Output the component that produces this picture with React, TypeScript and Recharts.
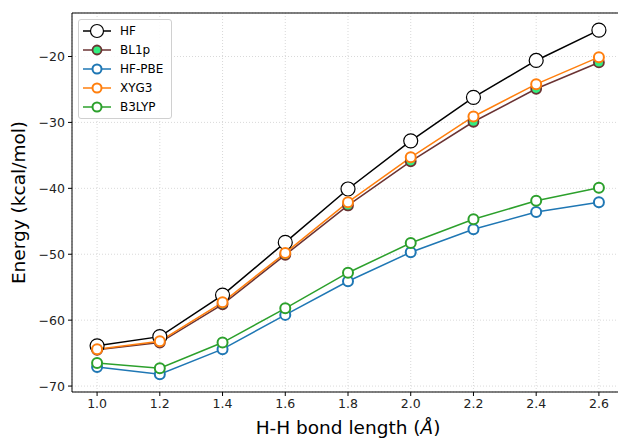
import { LineChart, Line, XAxis, YAxis, CartesianGrid, ReferenceLine } from "recharts";

const bondLength = [1.0, 1.2, 1.4, 1.6, 1.8, 2.0, 2.2, 2.4, 2.6];
const hf = [-63.9, -62.5, -56.2, -48.2, -40.1, -32.8, -26.2, -20.6, -16.0];
const bl1p = [-64.5, -63.4, -57.6, -50.1, -42.6, -35.9, -29.9, -24.9, -20.9];
const hfPbe = [-67.1, -68.2, -64.4, -59.2, -54.1, -49.7, -46.2, -43.6, -42.1];
const xyg3 = [-64.4, -63.2, -57.3, -49.8, -42.1, -35.3, -29.1, -24.2, -20.1];
const b3lyp = [-66.5, -67.3, -63.4, -58.2, -52.8, -48.3, -44.7, -41.9, -39.9];

const xTicks = [1.0, 1.2, 1.4, 1.6, 1.8, 2.0, 2.2, 2.4, 2.6];
const yTicks = [-70, -60, -50, -40, -30, -20];

const data = bondLength.map((x, i) => ({
  x,
  hf: hf[i],
  bl1p: bl1p[i],
  hfPbe: hfPbe[i],
  xyg3: xyg3[i],
  b3lyp: b3lyp[i],
}));

const series = [
  { key: "hf", name: "HF", color: "#000000", fill: "#ffffff", r: 7, sw: 1.2 },
  { key: "bl1p", name: "BL1p", color: "#6b3333", fill: "#33ee80", r: 5, sw: 1.8 },
  { key: "hfPbe", name: "HF-PBE", color: "#1f77b4", fill: "#ffffff", r: 5, sw: 2 },
  { key: "xyg3", name: "XYG3", color: "#ff7f0e", fill: "#ffffff", r: 5, sw: 2 },
  { key: "b3lyp", name: "B3LYP", color: "#2ca02c", fill: "#ffffff", r: 5, sw: 2 },
];

const font = "DejaVu Sans, sans-serif";
const minus = (v: number) => (v < 0 ? "\u2212" + Math.abs(v) : String(v));

function LegendBox() {
  return (
    <div
      style={{
        position: "absolute",
        left: 78,
        top: 19,
        border: "1px solid #d0d0d0",
        borderRadius: 3,
        background: "rgba(255,255,255,0.85)",
        padding: "1px 8px 1px 3px",
        fontFamily: font,
        fontSize: 12,
        color: "#000",
      }}
    >
      {series.map((s) => (
        <div key={s.key} style={{ display: "flex", alignItems: "center", height: 19.2 }}>
          <svg width={30} height={18} style={{ marginRight: 8 }}>
            <line x1={1} y1={9} x2={29} y2={9} stroke={s.color} strokeWidth={1.5} />
            <circle
              cx={15}
              cy={9}
              r={s.key === "hf" ? 6.5 : 4.5}
              fill={s.fill}
              stroke={s.color}
              strokeWidth={s.sw}
            />
          </svg>
          <span>{s.name}</span>
        </div>
      ))}
    </div>
  );
}

const XLabel = (props: any) => {
  const vb = props.viewBox || {};
  const cx = (vb.x || 0) + (vb.width || 0) / 2;
  return (
    <text x={cx} y={434} textAnchor="middle" fontSize={18.5} fontFamily={font} fill="#000">
      H-H bond length (<tspan fontStyle="italic">Å</tspan>)
    </text>
  );
};

export default function App() {
  return (
    <div
      style={{
        position: "absolute",
        left: 0,
        top: 0,
        width: 618,
        height: 440,
        overflow: "hidden",
        background: "#fff",
      }}
    >
      <LineChart
        width={630}
        height={440}
        data={data}
        margin={{ top: 13, right: 6, left: 0, bottom: 0 }}
        style={{ fontFamily: font }}
      >
        <CartesianGrid stroke="#cfcfcf" strokeDasharray="1 2" strokeWidth={0.8} />
        <XAxis
          dataKey="x"
          type="number"
          domain={[0.92, 2.68]}
          ticks={xTicks}
          tickFormatter={(v: number) => v.toFixed(1)}
          height={48}
          tickSize={4}
          tickMargin={3}
          tick={{ fill: "#222", fontSize: 12.5, fontFamily: font }}
          tickLine={{ stroke: "#000" }}
          axisLine={{ stroke: "#000", strokeWidth: 1 }}
          label={<XLabel />}
        />
        <YAxis
          type="number"
          domain={[-70.9, -13.4]}
          ticks={yTicks}
          tickFormatter={minus}
          width={72}
          tickSize={4}
          tickMargin={3}
          tick={{ fill: "#222", fontSize: 12.5, fontFamily: font }}
          tickLine={{ stroke: "#000" }}
          axisLine={{ stroke: "#000", strokeWidth: 1 }}
          label={{
            value: "Energy (kcal/mol)",
            angle: -90,
            position: "insideLeft",
            offset: 18,
            style: { fontSize: 18.5, fill: "#000", fontFamily: font, textAnchor: "middle" },
          }}
        />
        <ReferenceLine y={-13.4} stroke="#000" strokeWidth={1} ifOverflow="extendDomain" />
        {series.map((s) => (
          <Line
            key={s.key}
            dataKey={s.key}
            name={s.name}
            stroke={s.color}
            strokeWidth={1.5}
            dot={{ r: s.r, fill: s.fill, stroke: s.color, strokeWidth: s.sw }}
            activeDot={false}
            isAnimationActive={false}
          />
        ))}
      </LineChart>
      <LegendBox />
    </div>
  );
}
